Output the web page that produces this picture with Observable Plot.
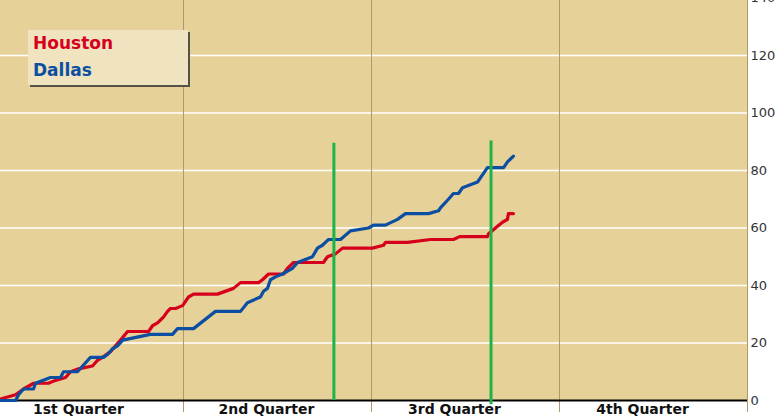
<!DOCTYPE html>
<html>
<head>
<meta charset="utf-8">
<script src="https://cdn.jsdelivr.net/npm/d3@7"></script>
<script src="https://cdn.jsdelivr.net/npm/@observablehq/plot@0.6"></script>
<style>
  html, body { margin: 0; padding: 0; background: #ffffff; }
  #wrap { position: relative; width: 777px; height: 420px; overflow: hidden; }
  #legend {
    position: absolute; left: 28px; top: 30px; width: 160px; height: 55px;
    background: #F0E3BF; box-shadow: 2px 2px 0 #55524a;
    font-family: "DejaVu Sans", Verdana, sans-serif; font-weight: bold; font-size: 17px;
  }
  #legend div { position: absolute; left: 5px; }
</style>
</head>
<body>
<div id="wrap">
  <div id="chart"></div>
  <div id="legend"></div>
</div>
<script>
// Game time (minutes) and running score for each team
const houstonTime  = [0, 1.28, 1.79, 2.43, 3.38, 3.83, 4.47, 4.79, 5.30, 6.19, 6.51, 6.83, 7.34, 7.66, 7.98, 8.43, 9.77, 10.02, 10.34, 10.53, 10.72, 10.98, 11.17, 11.49, 11.94, 12.32, 12.64, 14.17, 15.19, 15.64, 16.79, 17.04, 17.43, 18.38, 18.64, 18.83, 19.02, 20.93, 21.19, 21.70, 22.15, 24.06, 24.77, 24.89, 26.30, 27.77, 29.23, 29.62, 31.40, 31.47, 31.91, 32.36, 32.68, 32.74, 33.06];
const houstonScore = [0, 2, 4, 6, 6, 7, 8, 10, 11, 12, 14, 15, 17, 19, 21, 24, 24, 26, 27, 28, 29, 31, 32, 32, 33, 36, 37, 37, 39, 41, 41, 42, 44, 44, 46, 47, 48, 48, 50, 51, 53, 53, 54, 55, 55, 56, 56, 57, 57, 58, 60, 62, 63, 65, 65];
const dallasTime   = [0, 1.28, 1.47, 1.79, 2.43, 2.55, 3.51, 4.15, 4.34, 5.23, 6.06, 6.89, 7.15, 7.47, 7.79, 8.11, 9.89, 11.30, 11.62, 12.64, 14.04, 15.64, 16.08, 16.91, 17.11, 17.36, 17.55, 17.87, 18.32, 18.64, 18.96, 19.28, 20.23, 20.55, 20.87, 21.06, 21.26, 22.02, 22.66, 23.81, 24.13, 24.89, 25.66, 26.17, 27.64, 28.28, 28.40, 28.91, 29.23, 29.55, 29.81, 30.77, 31.15, 31.40, 32.43, 32.68, 32.87, 33.06];
const dallasScore  = [0, 0, 2, 4, 4, 6, 8, 8, 10, 10, 15, 15, 16, 18, 19, 21, 23, 23, 25, 25, 31, 31, 34, 36, 38, 39, 42, 43, 44, 45, 46, 48, 50, 53, 54, 55, 56, 56, 59, 60, 61, 61, 63, 65, 65, 66, 67, 70, 72, 72, 74, 76, 79, 81, 81, 83, 84, 85];
const teams = ["Houston", "Dallas"];
const teamColors = ["#D6001C", "#0B4EA2"];
const quarterLabels = ["1st Quarter", "2nd Quarter", "3rd Quarter", "4th Quarter"];
const quarterMid = [6, 18, 30, 42];
const quarterEnd = [12, 24, 36, 48];
const markerTime = [21.6, 31.63];
const markerLow  = [0, -1.5];
const markerHigh = [89.5, 90.3];
const yTicks = [0, 20, 40, 60, 80, 100, 120, 140];

const rows = [
  ...houstonTime.map((t, i) => ({team: teams[0], t, s: houstonScore[i]})),
  ...dallasTime.map((t, i) => ({team: teams[1], t, s: dallasScore[i]}))
];
const quarters = quarterLabels.map((label, i) => ({label, mid: quarterMid[i], end: quarterEnd[i]}));
const markers = markerTime.map((t, i) => ({t, lo: markerLow[i], hi: markerHigh[i]}));

const font = '"DejaVu Sans", Verdana, sans-serif';

const chart = Plot.plot({
  width: 777,
  height: 420,
  marginLeft: -5,
  marginRight: 30,
  marginTop: -2.5,
  marginBottom: 20,
  style: {background: "transparent", fontFamily: font, overflow: "hidden"},
  x: {domain: [0, 48], axis: null},
  y: {domain: [0, 140], axis: null},
  color: {domain: teams, range: teamColors},
  marks: [
    Plot.frame({fill: "#E6D298", stroke: null}),
    Plot.ruleY(yTicks.filter(d => d > 0), {stroke: "#ffffff", strokeWidth: 1.5}),
    Plot.ruleX(quarters, {x: "end", y1: -4.2, y2: 141, stroke: "#B09A6C", strokeWidth: 1}),
    Plot.ruleY([0], {stroke: "#000000", strokeWidth: 2}),
    Plot.line(rows, {x: "t", y: "s", z: "team", stroke: "team", strokeWidth: 3.2, strokeLinejoin: "round", strokeLinecap: "round"}),
    Plot.ruleX(markers, {x: "t", y1: "lo", y2: "hi", stroke: "#1DB34A", strokeWidth: 3}),
    Plot.axisY(yTicks, {anchor: "right", tickSize: 0, tickPadding: 3, fontSize: 13, fill: "#333333", label: null, fontFamily: font}),
    Plot.text(quarters, {x: "mid", text: "label", frameAnchor: "bottom", lineAnchor: "top", dy: 4, dx: -11, fontSize: 14, fontWeight: "bold", fill: "#111111", fontFamily: font})
  ]
});
document.getElementById("chart").appendChild(chart);

const legend = document.getElementById("legend");
teams.forEach((name, i) => {
  const d = document.createElement("div");
  d.textContent = name;
  d.style.color = teamColors[i];
  d.style.top = (i === 0 ? 3 : 30) + "px";
  legend.appendChild(d);
});
</script>
</body>
</html>
